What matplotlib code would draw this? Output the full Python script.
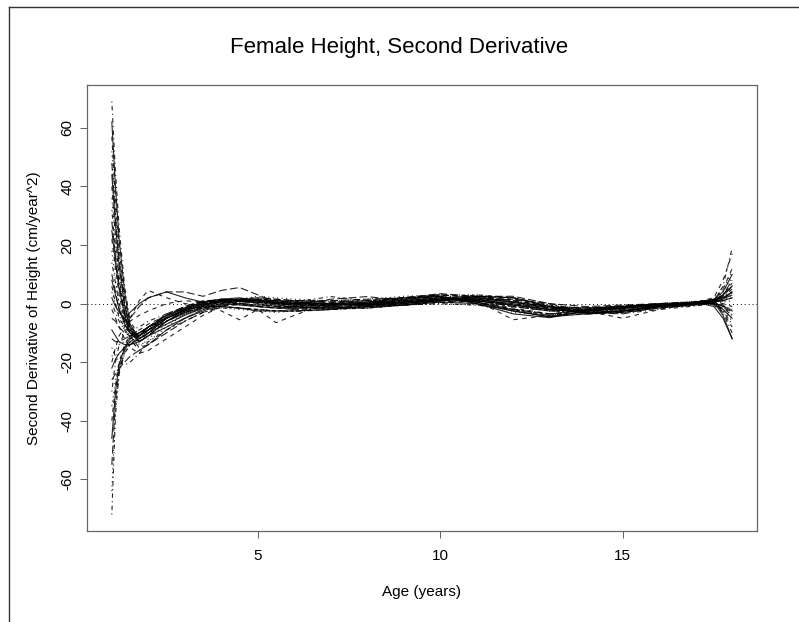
import matplotlib
matplotlib.use("Agg")
import matplotlib.pyplot as plt
from matplotlib.lines import Line2D

plt.rcParams['font.family'] = ['Liberation Sans', 'DejaVu Sans']
plt.rcParams['axes.unicode_minus'] = False

# age grid (years) shared by every curve
ages = [1.0, 1.1, 1.2, 1.35, 1.5, 1.75, 2.0, 2.5, 3.0, 3.5, 4.0, 4.5,
        5.0, 5.5, 6.0, 7.0, 8.0, 9.0, 10.0, 11.0, 12.0, 13.0, 14.0, 15.0, 16.0, 17.0,
        17.5, 17.75, 18.0]

# second derivative of height (cm/year^2), one row per girl
accel = [
    [62, 40, 22, 4, -7, -12, -10, -5, -2, -1, -1, -1.5, -2.5, -2.5, -2.5, -2, -1, -0.5, 0.5, 0, -2.5, -4.5, -3.5, -3, -1.5, -0.5, 0.5, -4, -12],
    [57, 36, 19, 2, -8, -13, -11, -6, -3, -1, 0.5, 1.5, 2, 1.5, 1, 0.5, 1, 2, 3, 2.5, 1, -1, -2, -1.5, -0.5, 0.5, 1.5, 5, 12],
    [52, 32, 16, 1, -8, -14, -13, -8, -3.5, -1, 0.5, 1, 1, 0.5, 0, 0, 0.5, 2, 2.5, 0, -3, -4, -2, -1, -0.5, 0.5, 0, -2, -6],
    [69, 45, 26, 6, -6, -11, -9, -4, -1.5, 0, 0.5, 0.8, 0.5, 0, -0.5, -0.5, 0, 1, 2, 1, -1, -2.5, -2.5, -1.5, -0.5, 0.3, 1, 6, 19],
    [48, 30, 15, 0, -9, -13, -10, -5, -2, 0, 0.5, -0.5, -1, -1.5, -1.5, -1, -0.5, 0, 1, 2.5, 2, -1, -3.5, -2.5, -1, 0, 1, 3, 8],
    [44, 27, 13, -1, -8, -11, -9, -4.5, -1.5, 0.5, 1.5, 1.2, 0, -1, -1.5, -1.5, -1, 0, 1.5, 1.5, 0, -2, -3, -2.5, -1, 0.5, 1.5, 4, 10],
    [40, 23, 9, -4, -11, -15, -14, -9, -5, -2, 0, 1, 1.5, 1, 0.5, 0, -0.5, 0.5, 1.5, 2, 0.5, -1, -2.5, -5, -2, 0.5, -0.5, -3, -8],
    [36, 22, 10, -2, -9, -12, -10, -5, -2, 0, 1, 1.5, 1, 0.5, 0, 0, 0.5, 1.5, 2.5, 1.5, -0.5, -2, -2, -1, -0.5, 0.3, 0.8, 2, 5],
    [32, 18, 7, -4, -10, -13, -11, -6, -3, -1.5, -1, -1.5, -2, -2.5, -2, -1.5, -1, 0, 1, 0.5, -2, -4, -3, -2.5, -1, 0, 0.3, -1, -3],
    [28, 16, 6, -3, -9, -11, -8, -3.5, -1, 0.8, 1.5, 1.5, 1.5, 1, 1, 1, 1.5, 2, 3, 2, 0.5, -1.5, -2, -1, -0.3, 0.5, 1, 2.5, 6],
    [25, 14, 5, -4, -10, -13, -11, -6, -2.5, -0.5, 1, 1.5, 1, 0, -0.5, -0.5, 0, 1.5, 2.5, 0.5, -2.5, -4.5, -2.5, -1.5, -0.5, 0.3, 0.5, 1.5, 4],
    [22, 12, 3, -6, -12, -16, -14, -9, -5, -2, -0.5, -0.5, -1, -1.5, -2, -1.5, -0.5, 0.5, 1, 2, 1.5, -1.5, -3.5, -2.5, -1, -0.2, -0.2, -1.5, -4],
    [18, 8, 0, -8, -13, -15, -12, -7, -3.5, -1, 0.5, 1.5, 0.5, -0.5, -1, -1, -0.5, 0.5, 1.5, 1, -0.5, -2.5, -3, -2, -1, 0, 0.5, 1, 3],
    [14, 7, 0, -6, -10, -12, -9, -5, -2, 0, 1, 1, 1.5, 1, 0.5, 0, -0.5, 0.5, 2, 2.5, 1, -1, -1.5, -1, -0.5, 0.2, 0.2, -0.5, -2],
    [10, 4, -2, -6, -5, -1, 2, 4, 4, 2.5, 4.5, 5.5, 3, 0.5, -0.5, 1.5, 2.4, 1, 0.5, 1, 1.5, 0, -1, -0.5, 0, 0.5, 1.2, 3, 7],
    [8, 3, -2, -7, -10, -11, -8, -4, -1.5, 0.5, 1.5, 2, 1, 0, -0.5, -0.5, 0, 1, 2, 1.5, -0.5, -2, -2.5, -1.5, -0.5, 0, 0, -2, -5],
    [6, 0, -5, -8, -5, 1, 4.5, 2, 0, -0.5, -1, -1.5, -2, -2.5, -2.5, -2, -1.5, -0.5, 0.5, 0.5, -1.5, -3.5, -3, -2.5, -1.5, -0.3, 1, 2, 4],
    [4, 0, -4, -8, -11, -12, -10, -6, -3, -1, 0.5, 1.5, 2.5, 2, 1.5, 1, 1, 1.5, 3, 3, 1.5, -0.5, -1.5, -1, 0, 0.8, 0.3, 0.5, 1],
    [0, -3, -6, -9, -11, -11, -9, -5, -2, 0, 1.2, 1.5, 1, 0.5, 0, -0.5, 0, 1.5, 3, 1, -2, -3.5, -2.5, -1.5, -0.5, 0.3, 0.5, -3, -10],
    [-5, -6, -8, -10, -11, -10, -8, -4, -1, 1, 1, 0, -0.5, -1, -1, -0.5, 0, 0.5, 1.5, 2.5, 2.5, 0, -3, -3, -1.5, -0.3, 0.8, 1.5, 3],
    [2, -1, -3, -5, -3, 0, 2, 4, 2, 0.5, 1, 1, 0.5, -0.5, -1, -1.5, -1.5, -0.5, 1, 1, -0.5, -2, -2.5, -2, -0.8, 0.3, 0.6, 1, 2],
    [-2, -5, -8, -12, -15, -17, -16, -12, -8, -4, -1, 0.5, 1, 0.5, 0.5, 0.5, 0, 0.5, 1, 1.5, 0, -1.5, -2, -1.5, -0.5, 0, 0.4, 0, -1],
    [-64, -36, -23, -17, -14, -12, -9, -6, -3.5, -2, -1.5, -2, -2.5, -3, -2.5, -2, -1.5, -0.5, 0, -0.5, -2.5, -4, -3, -2, -1, -0.3, -0.3, -2, -5],
    [-72, -38, -24, -17, -14, -11, -8, -5, -3, -1.5, -0.5, 0.5, 0.5, 0, 0, 0, 0.3, 1.2, 2, 1, -1, -2.5, -2, -1.5, -0.5, 0.2, 0.8, 2.5, 5],
    [-55, -33, -23, -16, -13, -11, -9, -6, -3, -1, 0.5, 1.5, 2, 1.5, 1, 0.5, 1, 2, 3.4, 2.5, 0.5, -1, -1.5, -0.8, 0, 0.5, 1, 2, 4],
    [-46, -30, -21, -15, -12, -10, -8, -5, -2.5, -0.5, 0.8, 1, 1, 0.5, 0, 0, 0.5, 2, 2.5, 0, -3.5, -4.8, -2.5, -1, -0.3, 0.5, -1, -5, -12],
    [-40, -28, -20, -14, -11, -9, -7, -4, -2, 0, 0.5, 0, -0.5, -1, -1, -0.5, 0, 0.5, 1.5, 3, 2, -0.5, -3, -2.5, -1, 0.5, 2, 8, 17],
    [-35, -26, -20, -15, -13, -11, -9, -6, -3.5, -1.5, 0, 1, 0, -1, -2, -1.5, -1, 0.5, 2, 1.5, -0.5, -2.5, -3, -2.5, -1, 0.3, 1.5, 5, 11],
    [-30, -20, -14, -10, -9, -8, -6, -3.5, -1.5, 0, 1, 1.5, 0.5, 0, 0.5, 2.4, 1, -0.5, 1, 2.5, 1, -1, -3, -3.5, -1, 0.5, 0.3, -2.5, -7],
    [-26, -24, -22, -20, -18, -16, -14, -10, -6, -3, -1, 0, 0.5, 0.5, 0, -0.5, 0, 1, 2, 1, -1, -2.5, -2.5, -1.5, -0.5, 0.3, 0.5, 1, 2],
    [-22, -19, -17, -15, -14, -12, -10, -7, -4, -1.5, 0, 0.8, 1.2, 1, 0.5, 0, -0.5, 0.5, 1.5, 2, 0.5, -1.5, -1.5, -1, -0.5, 0.2, 1, 3, 6],
    [-20, -15, -11, -8, -6, -4, -2.5, 0, 1, 0.5, -2.5, -5.5, -2, -6.5, -4, 0.5, 1, 0, 1.5, 1, -5.5, -4, -2, -1, 0, 0.5, 0.3, -1, -4],
    [-18, -16, -14, -13, -12, -11, -9, -6, -3.5, -1.5, 0, 0.5, 1.5, 1.5, 1, 1, 1.5, 2.5, 3, 2, 0.5, -1, -1.5, -1, 0, 0.8, 1, 4, 9],
    [-15, -18, -20, -21, -20, -17, -13, -9, -6, -3, -1.5, -1.5, -2, -2.5, -2.7, -2, -1, -0.5, 0, -0.5, -2, -4, -3.5, -3.4, -2, -0.8, 0, -1, -2],
    [-12, -13, -13, -12, -11, -10, -8, -5, -2.5, -0.5, 1, 1.2, 0.8, 0.3, 0, 0, 0.5, 1.5, 2.5, 0.5, -2, -3.5, -2, -1, -0.5, 0.2, 0.5, 2, 3.5],
    [-9, -11, -13, -14, -14, -13, -11, -8, -5, -2.5, -0.5, 0, -1, -1.5, -1.5, -1, -0.5, 0, 1, 2.5, 2, -1, -3.5, -2.5, -1, 0, 0.2, -0.8, -2.5],
]

# R-style lty cycle 1:5 (solid, dashed, dotted, dotdash, longdash)
styles = ['-', (0, (4, 4)), (0, (1, 3)), (0, (1, 3, 4, 3)), (0, (7, 3))]

fig = plt.figure(figsize=(7.99, 6.22), dpi=100)
ax = fig.add_axes([0.1089, 0.1463, 0.8385, 0.717])

for i, row in enumerate(accel):
    ax.plot(ages, row, color='black', lw=0.8, ls=styles[i % len(styles)], alpha=0.85)

ax.axhline(0, color='black', lw=0.7, ls=(0, (1, 3)))

lo = min(min(r) for r in accel); hi = max(max(r) for r in accel)
ypad = 0.04 * (hi - lo); xpad = 0.04 * (ages[-1] - ages[0])
ax.set_ylim(lo - ypad, hi + ypad)
ax.set_xlim(ages[0] - xpad, ages[-1] + xpad)

ax.set_xticks([5, 10, 15])
ax.set_yticks([-60, -40, -20, 0, 20, 40, 60])
ax.tick_params(direction='out', length=5, width=0.75, color='#666666', labelsize=11)
ax.tick_params(axis='x', pad=8)
ax.tick_params(axis='y', pad=4)
for lab in ax.get_yticklabels():
    lab.set_rotation(90); lab.set_va('center')
for s in ax.spines.values():
    s.set_color('#666666'); s.set_linewidth(0.9)

ax.set_xlabel('Age (years)', fontsize=11, labelpad=16)
ax.set_ylabel('Second Derivative of Height (cm/year^2)', fontsize=11, labelpad=14)
fig.text(0.5, 1 - 47 / 622, 'Female Height, Second Derivative', ha='center', va='center', fontsize=16)

# outer frame edges
fig.add_artist(Line2D([9 / 799, 9 / 799], [0, 1 - 6.5 / 622], transform=fig.transFigure, color='#333333', lw=1))
fig.add_artist(Line2D([9 / 799, 1], [1 - 6.5 / 622, 1 - 6.5 / 622], transform=fig.transFigure, color='#333333', lw=1))

fig.savefig('out.png', dpi=100)
